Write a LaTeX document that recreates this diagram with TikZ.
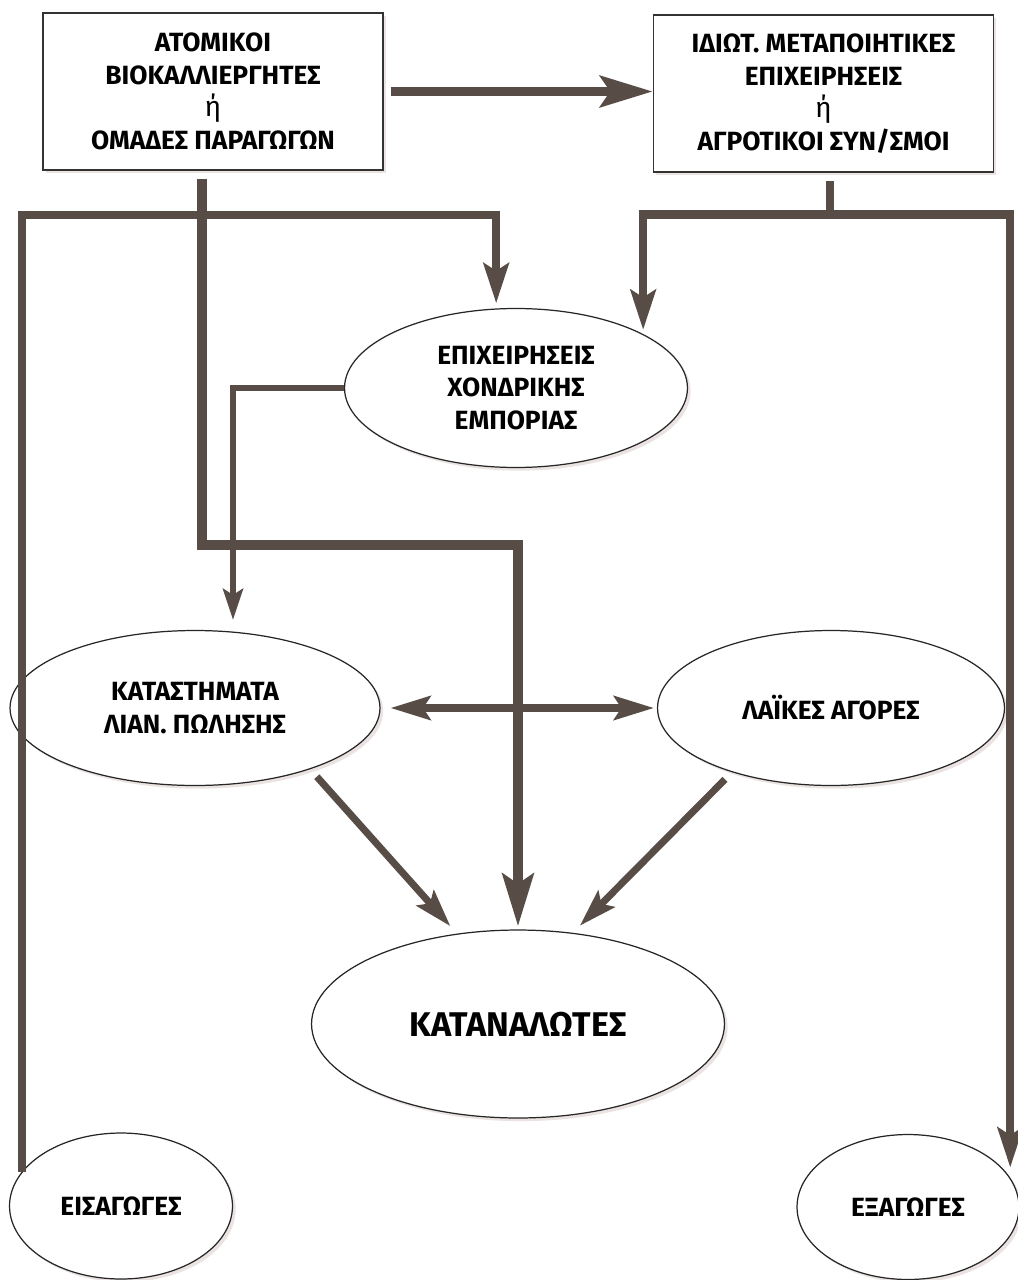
\documentclass[tikz,border=0pt]{standalone}
\usepackage{fontspec}
\setmainfont{Fira Sans}
\usetikzlibrary{arrows.meta,positioning,calc,shapes.geometric,shadows}
\definecolor{chLine}{RGB}{88,77,70}
\definecolor{chShade}{RGB}{214,200,198}

\begin{document}
\begin{tikzpicture}[
  x=0.02cm, y=-0.02cm,
  font=\fontsize{15}{18.6}\selectfont\bfseries,
  actor/.style={
    draw=black!80, fill=white, line width=0.8pt, align=center,
    minimum width=6.8cm, minimum height=3.14cm, inner sep=2pt,
    drop shadow={shadow xshift=1.6pt, shadow yshift=-1.6pt, fill=chShade}
  },
  market/.style={
    ellipse, draw=black!85, fill=white, line width=0.7pt, align=center,
    inner sep=0pt,
    drop shadow={shadow xshift=1.8pt, shadow yshift=-1.8pt, fill=chShade}
  },
  flow/.style={chLine, line width=5.6pt,
    -{Stealth[length=1.05cm, width=0.62cm, inset=0.2cm]}},
  feed/.style={chLine, line width=4.8pt,
    -{Stealth[length=0.8cm, width=0.5cm, inset=0.15cm]}},
  thinflow/.style={chLine, line width=3.3pt,
    -{Stealth[length=0.62cm, width=0.4cm, inset=0.12cm]}},
  diag/.style={chLine, line width=4pt,
    -{Stealth[length=0.75cm, width=0.46cm, inset=0.14cm]}},
  both/.style={chLine, line width=4pt,
    {Stealth[length=0.8cm, width=0.48cm, inset=0.15cm]}-{Stealth[length=0.8cm, width=0.48cm, inset=0.15cm]}}
]
\useasboundingbox (0,0) rectangle (1017,1280);
\path[fill=white] (0,0) rectangle (1017,1280);

% producers and processors
\node[actor] (farmers) at (213,91.5)
  {ΑΤΟΜΙΚΟΙ\\ΒΙΟΚΑΛΛΙΕΡΓΗΤΕΣ\\{\mdseries\fontsize{16}{18.6}\selectfont ή}\\ΟΜΑΔΕΣ ΠΑΡΑΓΩΓΩΝ};
\node[actor] (processors) at (823.5,93.5)
  {ΙΔΙΩΤ. ΜΕΤΑΠΟΙΗΤΙΚΕΣ\\ΕΠΙΧΕΙΡΗΣΕΙΣ\\{\mdseries\fontsize{16}{18.6}\selectfont ή}\\ΑΓΡΟΤΙΚΟΙ ΣΥΝ/ΣΜΟΙ};

% wholesale
\node[market, minimum width=6.86cm, minimum height=3.18cm] (wholesale) at (516,388)
  {ΕΠΙΧΕΙΡΗΣΕΙΣ\\ΧΟΝΔΡΙΚΗΣ\\ΕΜΠΟΡΙΑΣ};

% retail level
\node[market, minimum width=7.4cm, minimum height=3.1cm] (retail) at (195,708)
  {ΚΑΤΑΣΤΗΜΑΤΑ\\ΛΙΑΝ. ΠΩΛΗΣΗΣ};
\node[market, minimum width=6.94cm, minimum height=3.1cm] (street) at (831,708)
  {ΛΑΪΚΕΣ ΑΓΟΡΕΣ};

% consumers
\node[market, minimum width=8.26cm, minimum height=3.76cm,
      font=\fontsize{19.5}{22}\selectfont\bfseries] (consumers) at (518,1024)
  {ΚΑΤΑΝΑΛΩΤΕΣ};

% trade
\node[market, minimum width=4.46cm, minimum height=2.92cm] (imports) at (121,1206)
  {ΕΙΣΑΓΩΓΕΣ};
\node[market, minimum width=4.44cm, minimum height=2.9cm] (exports) at (908,1207)
  {ΕΞΑΓΩΓΕΣ};

% connectors
\coordinate (busL) at (0,215);
\coordinate (turn) at (518,545);
\coordinate (busR) at ($(processors.south)+(6.5,42)$);

\draw[feed, shorten >=0.1cm] (imports.161) -- (imports.161 |- busL) -| (wholesale.104);
\draw[flow, shorten <=0.14cm] (farmers.east) -- (farmers.east -| processors.west);
\draw[flow, shorten >=0.06cm] ($(farmers.south)+(-11,8)$) |- (turn) -- (consumers.north);

\draw[chLine, line width=4.8pt] ($(processors.south)+(6.5,8)$) -- (busR);
\draw[feed, shorten >=0.08cm] (busR) -| (wholesale.23);
\draw[feed, shorten >=0.2cm] (busR) -| (exports.16);

\draw[thinflow] (wholesale.west) -| ($(retail.north)+(38,-10)$);
\draw[both, shorten <=0.2cm, shorten >=0.06cm] (retail.east) -- (street.west);

\foreach \a/\b in {retail.-28/consumers.124, street.-147/consumers.59}
  \draw[diag, shorten <=0.2cm, shorten >=0.2cm] (\a) -- (\b);

\end{tikzpicture}
\end{document}
